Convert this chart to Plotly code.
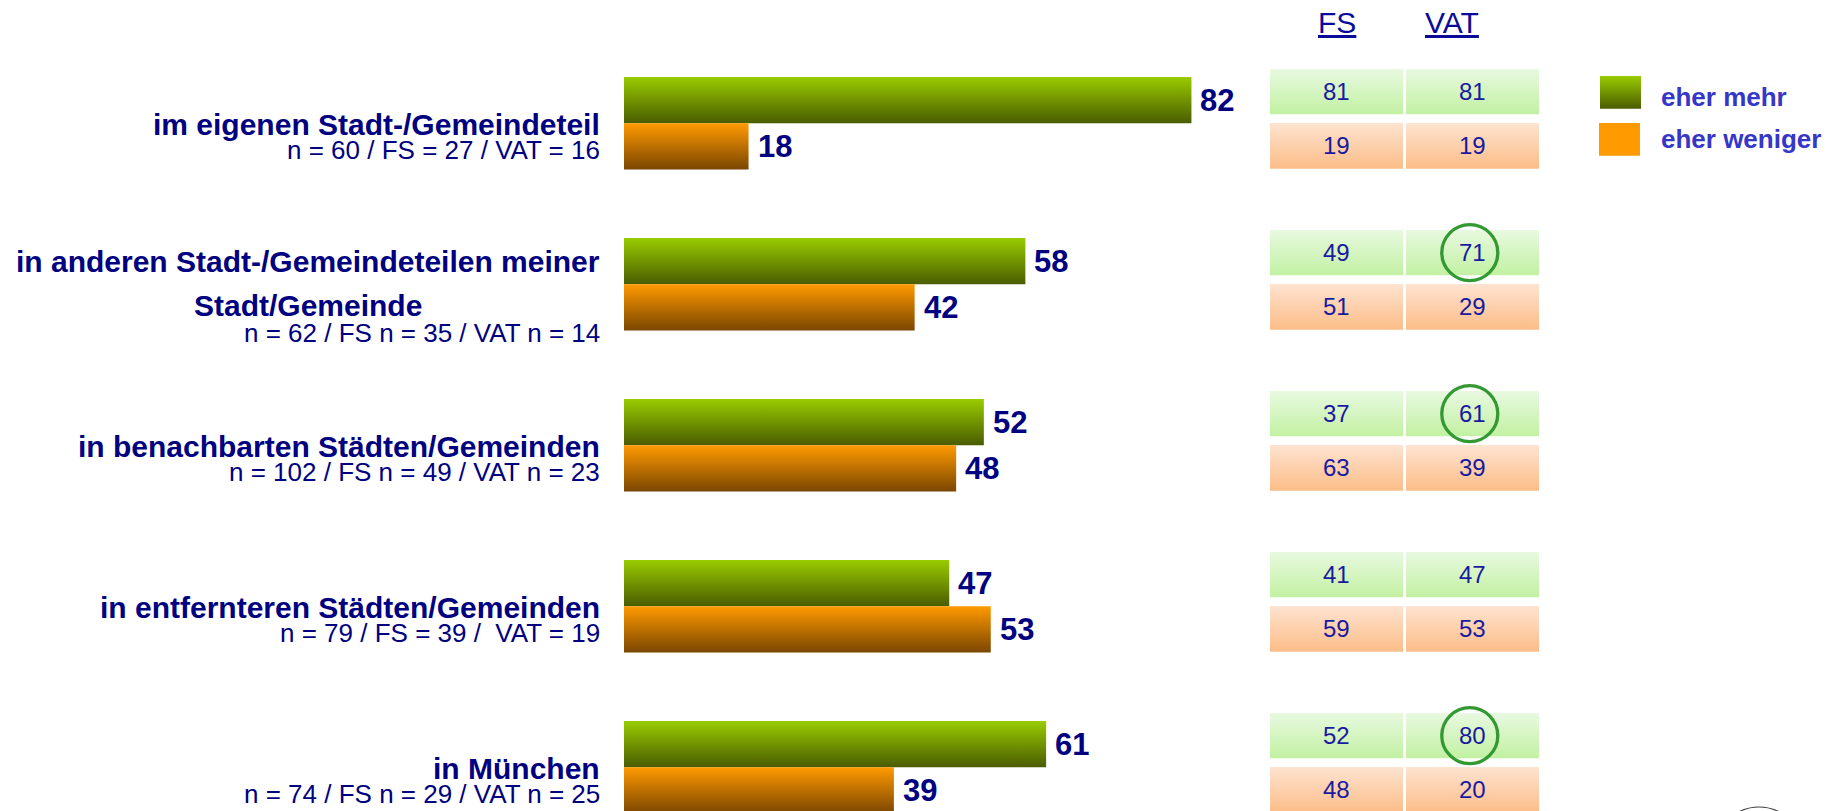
import plotly.graph_objects as go

# ---------------- data ----------------
categories = [
    "im eigenen Stadt-/Gemeindeteil",
    "in anderen Stadt-/Gemeindeteilen meiner<br>Stadt/Gemeinde",
    "in benachbarten Städten/Gemeinden",
    "in entfernteren Städten/Gemeinden",
    "in München",
]
sample_sizes = [
    "n = 60 / FS = 27 / VAT = 16",
    "n = 62 / FS n = 35 / VAT n = 14",
    "n = 102 / FS n = 49 / VAT n = 23",
    "n = 79 / FS = 39 /  VAT = 19",
    "n = 74 / FS n = 29 / VAT n = 25",
]
series_names = ["eher mehr", "eher weniger"]
mehr_total = [82, 58, 52, 47, 61]
weniger_total = [18, 42, 48, 53, 39]
columns = ["FS", "VAT"]
fs_mehr = [81, 49, 37, 41, 52]
fs_weniger = [19, 51, 63, 59, 48]
vat_mehr = [81, 71, 61, 47, 80]
vat_weniger = [19, 29, 39, 53, 20]
vat_highlight = [False, True, True, False, True]

# ---------------- geometry / style ----------------
W, H = 1843, 811
X0_PX, XPX = 624.0, 6.92          # bar axis: pixel of 0 %, pixels per %
T0_PX, TPX = 1336.5, 136.0        # table axis: pixel of column 0, pixels per column
Y0_PX, YPX = 123.3, 161.0         # category axis: pixel of category 0, pixels per category
BAR_H = 46.3 / YPX
FONT = "Liberation Sans, Arial, sans-serif"
NAVY = "#000080"
TABLE_TXT = "#1a1aa0"
LEG_TXT = "#3636c8"
GREEN_BAR = ("#99cc00", "#4a5c00")
ORANGE_BAR = ("#ff9a00", "#7a4600")
GREEN_CELL = ("#e8f9e0", "#c2f1a2")
ORANGE_CELL = ("#fee3d0", "#fcbd88")


def px_x2(px):
    return (px - T0_PX) / TPX


def px_y(py):
    return (py - Y0_PX) / YPX


def grad_rect(xa, x0, x1, y0, y1, colors, name):
    return go.Scatter(
        x=[x0, x1, x1, x0, x0], y=[y0, y0, y1, y1, y0],
        xaxis=xa, yaxis="y", mode="lines", line=dict(width=0),
        fill="toself", fillcolor=colors[0],
        fillgradient=dict(type="vertical", colorscale=[[0, colors[0]], [1, colors[1]]],
                          start=y0, stop=y1),
        name=name, hoverinfo="skip", showlegend=False,
    )


fig = go.Figure()
annotations = []
shapes = []

# bars
for k in range(len(categories)):
    fig.add_trace(grad_rect("x", 0, mehr_total[k], k - BAR_H, k, GREEN_BAR, series_names[0]))
    fig.add_trace(grad_rect("x", 0, weniger_total[k], k, k + BAR_H, ORANGE_BAR, series_names[1]))
    for val, yc in ((mehr_total[k], k - BAR_H / 2), (weniger_total[k], k + BAR_H / 2)):
        annotations.append(dict(x=val, y=yc, xref="x", yref="y", text=f"<b>{val}</b>",
                                showarrow=False, xanchor="left", yanchor="middle", xshift=7,
                                font=dict(family=FONT, size=31, color=NAVY)))

# table
CELL_HW = 66.5 / TPX
G_ROW = (-54.3 / YPX, -9.0 / YPX)
O_ROW = (-0.3 / YPX, 45.4 / YPX)
table_vals = [(fs_mehr, fs_weniger), (vat_mehr, vat_weniger)]
for c, (mehr, wen) in enumerate(table_vals):
    for k in range(len(categories)):
        for vals, row, cols, nm in ((mehr, G_ROW, GREEN_CELL, series_names[0]),
                                    (wen, O_ROW, ORANGE_CELL, series_names[1])):
            fig.add_trace(grad_rect("x2", c - CELL_HW, c + CELL_HW, k + row[0], k + row[1], cols, nm))
            annotations.append(dict(x=c, y=k + (row[0] + row[1]) / 2, xref="x2", yref="y",
                                    text=str(vals[k]), showarrow=False,
                                    xanchor="center", yanchor="middle",
                                    font=dict(family=FONT, size=24, color=TABLE_TXT)))
        if c == 1 and vat_highlight[k]:
            shapes.append(dict(type="circle", xref="x2", yref="y", xsizemode="pixel",
                               ysizemode="pixel", xanchor=c - 0.02,
                               yanchor=k + (G_ROW[0] + G_ROW[1]) / 2,
                               x0=-28, x1=28, y0=-28, y1=28,
                               line=dict(color="#339933", width=3.3)))

# column headers
for name, px in zip(columns, (1336.5, 1452.0)):
    annotations.append(dict(x=px / W, y=1 - 22.5 / H, xref="paper", yref="paper",
                            text=f"<u>{name}</u>", showarrow=False, xanchor="center",
                            yanchor="middle", font=dict(family=FONT, size=30, color="#0a0a9a")))

# category labels
for k, (cat, n) in enumerate(zip(categories, sample_sizes)):
    lines = cat.split("<br>")
    if len(lines) > 1:
        for line, off in zip(lines, (-22.5, 21.5)):
            annotations.append(dict(x=308 / W, y=k + off / YPX, xref="paper", yref="y",
                                    text=f"<b>{line}</b>", showarrow=False, xanchor="center",
                                    yanchor="middle", align="center",
                                    font=dict(family=FONT, size=30, color=NAVY)))
        n_off = 49 / YPX
    else:
        annotations.append(dict(x=602 / W, y=k + 1 / YPX, xref="paper", yref="y",
                                text=f"<b>{cat}</b>", showarrow=False, xanchor="right",
                                yanchor="middle", align="right",
                                font=dict(family=FONT, size=30, color=NAVY)))
        n_off = 27 / YPX
    annotations.append(dict(x=602 / W, y=k + n_off, xref="paper", yref="y",
                            text=n, showarrow=False, xanchor="right", yanchor="middle",
                            align="right", font=dict(family=FONT, size=26, color=NAVY)))

# legend (manual)
fig.add_trace(grad_rect("x2", px_x2(1600), px_x2(1641), px_y(76), px_y(108.7), GREEN_BAR, series_names[0]))
fig.add_trace(grad_rect("x2", px_x2(1599), px_x2(1640), px_y(123), px_y(155.7),
                        (ORANGE_BAR[0], ORANGE_BAR[0]), series_names[1]))
for name, py in zip(series_names, (96.7, 139.3)):
    annotations.append(dict(x=1659 / W, y=1 - py / H, xref="paper", yref="paper",
                            text=f"<b>{name}</b>", showarrow=False, xanchor="left",
                            yanchor="middle", font=dict(family=FONT, size=26, color=LEG_TXT)))

# partial logo arc at bottom right
shapes.append(dict(type="circle", xref="paper", yref="paper",
                   x0=1716 / W, x1=1802 / W, y0=1 - 893 / H, y1=1 - 807 / H,
                   line=dict(color="#444444", width=1.2)))

fig.update_layout(
    width=W, height=H, margin=dict(l=0, r=0, t=0, b=0),
    paper_bgcolor="white", plot_bgcolor="white", showlegend=False,
    xaxis=dict(domain=[0, 1], range=[-X0_PX / XPX, (W - X0_PX) / XPX], visible=False, fixedrange=True),
    xaxis2=dict(domain=[0, 1], range=[-T0_PX / TPX, (W - T0_PX) / TPX], visible=False,
                overlaying="x", anchor="y", fixedrange=True),
    yaxis=dict(domain=[0, 1], range=[(H - Y0_PX) / YPX, -Y0_PX / YPX], visible=False, fixedrange=True),
    annotations=annotations, shapes=shapes,
)

fig.write_html("out.html", config={"displayModeBar": False},
               post_script="document.body.style.margin='0';document.body.style.overflow='hidden';")
